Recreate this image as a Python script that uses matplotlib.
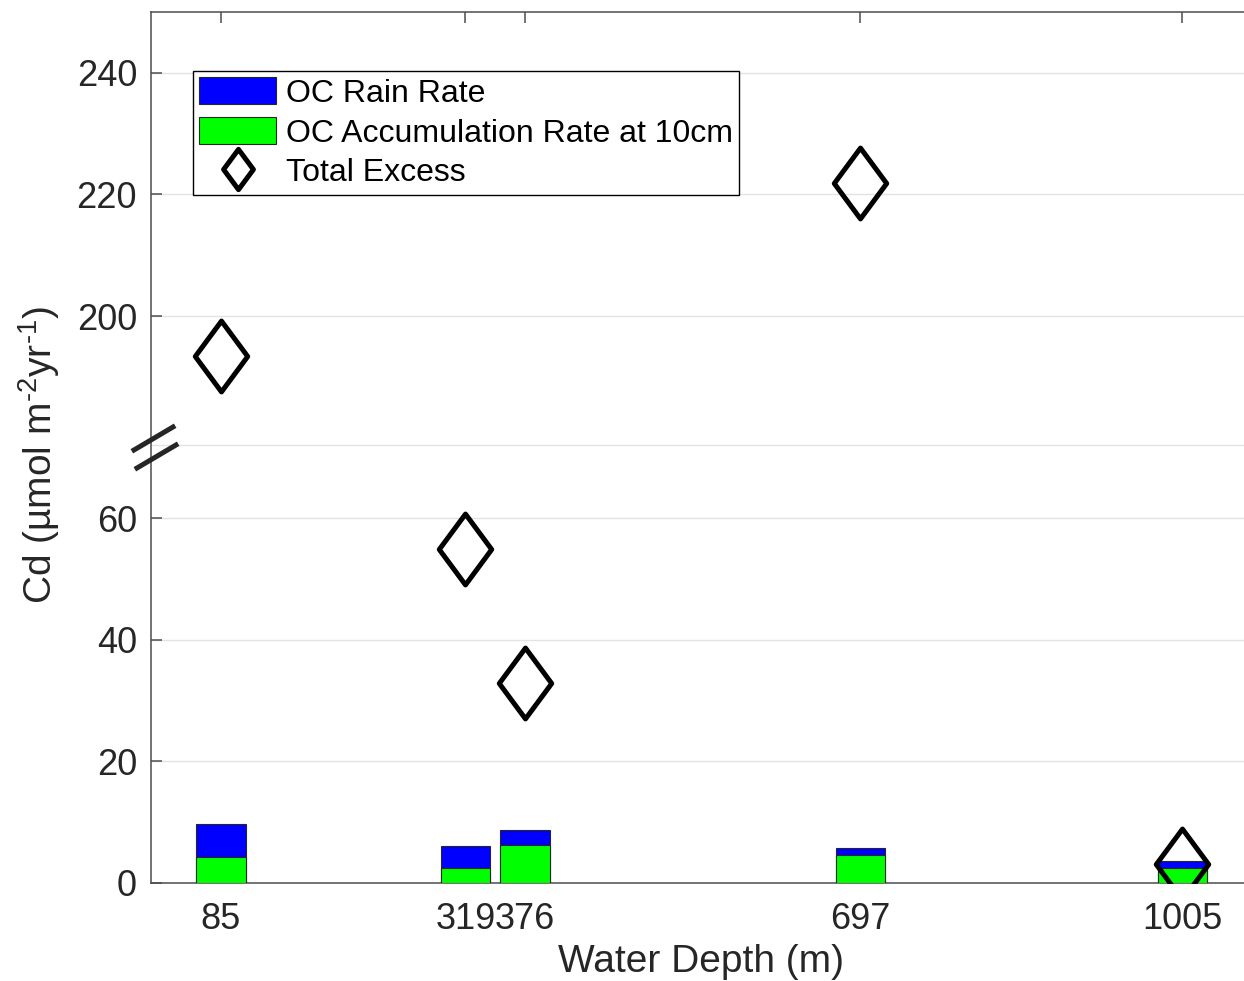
import numpy as np
import matplotlib
import matplotlib.pyplot as plt
from matplotlib.path import Path
from matplotlib.markers import MarkerStyle
from matplotlib.lines import Line2D
from matplotlib.patches import Patch

matplotlib.use('Agg')

plt.rcParams['font.family'] = ['Liberation Sans', 'DejaVu Sans']
plt.rcParams['mathtext.fontset'] = 'custom'
plt.rcParams['mathtext.rm'] = 'Liberation Sans'
plt.rcParams['mathtext.it'] = 'Liberation Sans'

# Station water depths (m) and Cd fluxes (umol m-2 yr-1)
depths = [85, 319, 376, 697, 1005]
oc_rain = [9.65, 6.13, 8.77, 5.71, 3.67]
oc_accum = [4.33, 2.42, 6.25, 4.56, 2.42]
total_excess = [193.4, 54.9, 32.9, 221.9, 3.1]

# Broken y axis: values above the break are shifted down by the offset
break_at = 72.0
offset = 106.8
lower_ticks = [0, 20, 40, 60]
upper_ticks = [200, 220, 240]
y_top = 250.0

TXT = '#262626'
AXC = '#4d4d4d'


def squash(v):
    v = np.asarray(v, dtype=float)
    return np.where(v > break_at + offset / 2, v - offset, v)


fig = plt.figure(figsize=(12.44, 9.81), dpi=100)
W, H = 1244, 981
ax = fig.add_axes([151 / W, (H - 883) / H, (1250 - 151) / W, (883 - 12) / H])

bar_w = 47
ax.bar(depths, oc_rain, width=bar_w, color='#0000ff', edgecolor='#262626',
       linewidth=0.8, zorder=2)
ax.bar(depths, oc_accum, width=bar_w, color='#00ff00', edgecolor='#262626',
       linewidth=0.8, zorder=3)

diamond = Path([(0, 1), (0.74, 0), (0, -1), (-0.74, 0), (0, 1)],
               [Path.MOVETO, Path.LINETO, Path.LINETO, Path.LINETO,
                Path.CLOSEPOLY])
dmark = MarkerStyle(diamond, joinstyle='miter')
ax.plot(depths, squash(total_excess), linestyle='none', marker=dmark,
        markersize=51, markerfacecolor='none', markeredgecolor='black',
        markeredgewidth=3.6, zorder=4)

ax.set_xlim(18, 1070)
ax.set_ylim(0, y_top - offset)

ax.set_xticks(depths)
ax.set_xticklabels([str(d) for d in depths])
ytick_pos = list(lower_ticks) + list(squash(upper_ticks))
ax.set_yticks(ytick_pos)
ax.set_yticklabels([str(t) for t in lower_ticks + upper_ticks])

ax.tick_params(direction='in', length=8, width=1.1, colors=AXC,
               labelcolor=TXT, labelsize=26, top=True, right=False)
ax.tick_params(axis='y', pad=10)
ax.tick_params(axis='x', pad=14)

for y in ytick_pos + [break_at]:
    ax.axhline(y, color='#e3e3e3', linewidth=1.0, zorder=0)

for s in ax.spines.values():
    s.set_color(AXC)
    s.set_linewidth(1.1)

ax.set_xlabel('Water Depth (m)', fontsize=28, color=TXT, labelpad=5)
ax.set_ylabel(r'Cd (µmol m$^{\text{-2}}$yr$^{\text{-1}}$)', fontsize=28,
              color=TXT)
ax.yaxis.set_label_coords((62 - 151) / 1099, (883 - 455) / 871)

# Break marks on the left axis
for (x0, y0, x1, y1) in [(134, 450, 173, 427), (137, 468, 176, 445)]:
    fig.add_artist(Line2D([x0 / W, x1 / W], [1 - y0 / H, 1 - y1 / H],
                          color='#262626', linewidth=3.6,
                          transform=fig.transFigure))

handles = [
    Patch(facecolor='#0000ff', edgecolor='#262626', linewidth=0.8),
    Patch(facecolor='#00ff00', edgecolor='#262626', linewidth=0.8),
    Line2D([], [], linestyle='none', marker=dmark, markersize=29,
           markerfacecolor='none', markeredgecolor='black',
           markeredgewidth=3.6),
]
labels = ['OC Rain Rate', 'OC Accumulation Rate at 10cm', 'Total Excess']
leg = ax.legend(handles, labels, loc='upper left',
                bbox_to_anchor=(42 / 1099, 1 - 59 / 871), borderaxespad=0,
                fontsize=23, frameon=True, fancybox=False, framealpha=1,
                edgecolor='black', handlelength=2.4, handleheight=0.92,
                handletextpad=0.3, labelspacing=0.26, borderpad=0.2)
leg.get_frame().set_linewidth(1.0)

fig.savefig('out.png', dpi=100)
